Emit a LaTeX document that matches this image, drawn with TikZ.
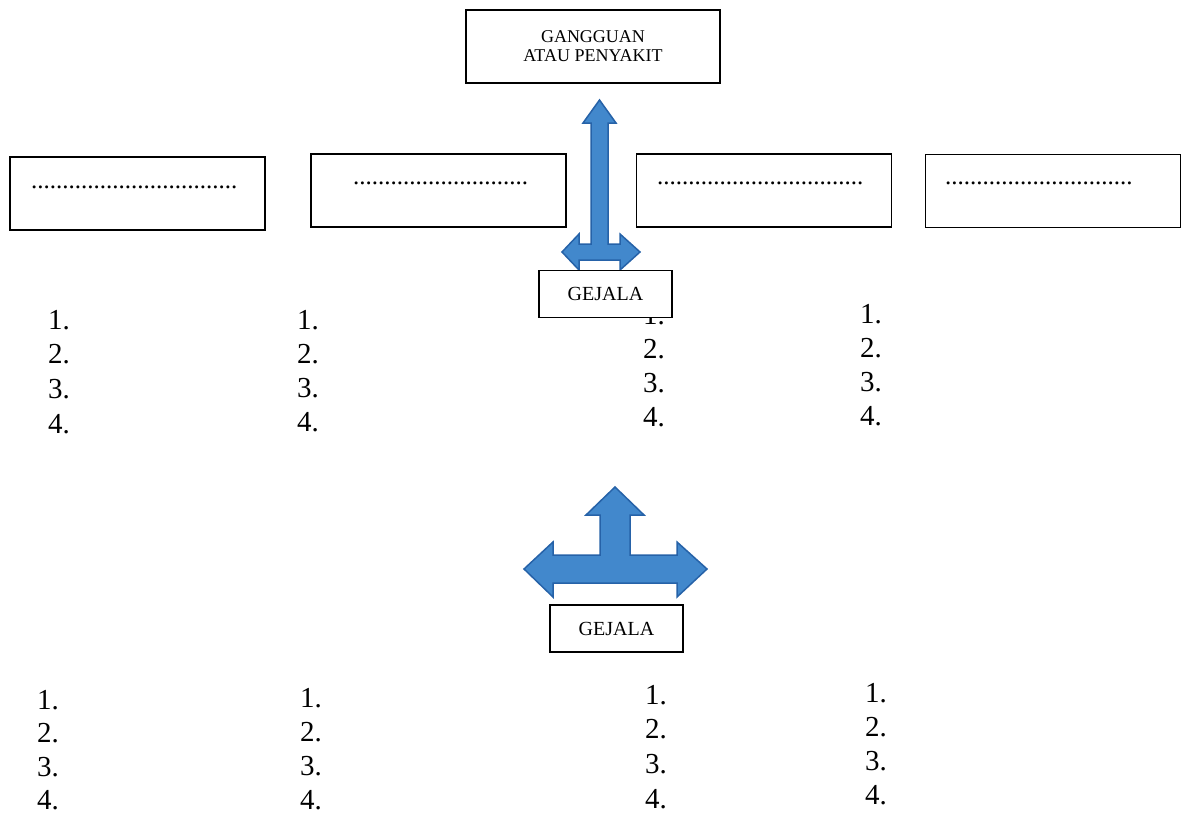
\documentclass[tikz,border=0pt]{standalone}
\usepackage{fontspec}
\setmainfont{Liberation Serif}
\usetikzlibrary{positioning}

\definecolor{biru}{RGB}{66,136,204}
\definecolor{birutua}{RGB}{38,98,168}

\begin{document}
\begin{tikzpicture}[x=1pt, y=-1pt,
	kotak/.style = {draw, line width=1.2pt, fill=white, rectangle, inner sep=0pt, align=center},
	judul/.style = {kotak, minimum width=254, minimum height=73, font=\fontsize{18}{19}\selectfont},
	isian/.style = {kotak, minimum width=255, minimum height=73},
	gejala/.style = {kotak, minimum width=133, minimum height=47, font=\fontsize{20}{22}\selectfont},
	titik/.style = {anchor=base west, inner sep=0pt, font=\fontsize{25}{25}\selectfont},
	angka/.style = {anchor=base west, inner sep=0pt, font=\fontsize{29}{29}\selectfont},
	panah/.style = {fill=biru, draw=birutua, line width=1.5pt, line join=miter}]

	\useasboundingbox (0,0) rectangle (1183,816);

	% kotak atas
	\node[judul] (sakit) at (593,46.5) {GANGGUAN\\ATAU PENYAKIT};

	\node[isian] (k1) at (137.5,193.5) {};
	\node[isian] (k2) at (438.5,190.5) {};
	\node[isian] (k3) at (764,190.5) {};
	\node[isian] (k4) at (1053,191) {};

	\node[titik] (t1) at (31,188) {.................................};
	\node[titik] (t2) at (353,184) {............................};
	\node[titik] (t3) at (657,184) {.................................};
	\node[titik] (t4) at (945,184) {..............................};

	% nomor
	\foreach \x/\y/\d [count=\c] in {48/329/34.7, 297/329/34, 643/324/34.3, 860/323/34.3,
		37/709/33.5, 300/707/34, 645/704/34.7, 865/702/34}
		\foreach \n in {1,...,4}
			\node[angka] (n\c-\n) at (\x,\y+\n*\d-\d) {\n.};

	% panah atas
	\filldraw[panah] (599.5,100) -- (616,123) -- (608,123) -- (608,244) -- (620,244)
		-- (620,234) -- (640,252) -- (620,270) -- (620,260) -- (579,260) -- (579,270)
		-- (562,252) -- (579,234) -- (579,244) -- (591,244) -- (591,123) -- (583,123) -- cycle;

	\node[gejala] (g1) at (605.5,294) {GEJALA};

	% panah bawah
	\filldraw[panah] (615,487) -- (644,515) -- (630,515) -- (630,555) -- (677,555)
		-- (677,542) -- (707,569) -- (677,597) -- (677,583) -- (553,583) -- (553,597)
		-- (524,569) -- (553,542) -- (553,555) -- (600,555) -- (600,515) -- (586,515) -- cycle;

	\node[gejala] (g2) at (616.5,628.5) {GEJALA};

\end{tikzpicture}
\end{document}
